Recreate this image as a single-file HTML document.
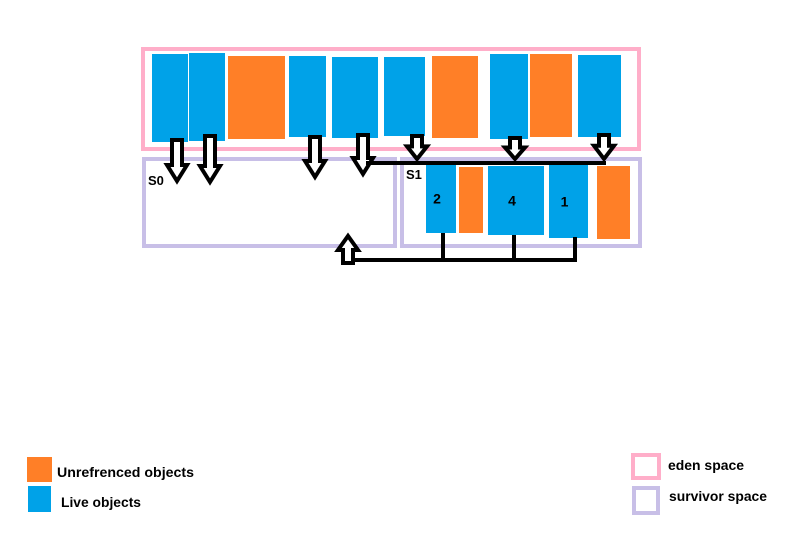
<!DOCTYPE html>
<html><head><meta charset="utf-8"><style>
html,body{margin:0;padding:0;background:#fff;width:806px;height:537px;overflow:hidden}
svg{display:block}
text{font-family:"Liberation Sans",sans-serif;font-weight:bold;fill:#000}
</style></head><body>
<svg id="d" width="806" height="537" viewBox="0 0 806 537">
<rect x="143" y="49" width="496" height="100" fill="none" stroke="#ffaec9" stroke-width="4"/>
<rect x="144" y="159" width="251" height="87" fill="none" stroke="#c8bfe7" stroke-width="4"/>
<rect x="402" y="159" width="238" height="87" fill="none" stroke="#c8bfe7" stroke-width="4"/>
<text x="148" y="185" font-size="13">S0</text>
<text x="406" y="179" font-size="13">S1</text>
<g id="objs"></g>
<g id="arrows" fill="#fff" stroke="#000" stroke-width="4" stroke-linejoin="miter"></g>
<line x1="366" y1="163" x2="606" y2="163" stroke="#000" stroke-width="4"/>
<line x1="348" y1="260" x2="577" y2="260" stroke="#000" stroke-width="4"/>
<line x1="443" y1="233" x2="443" y2="260" stroke="#000" stroke-width="4"/>
<line x1="514" y1="235" x2="514" y2="260" stroke="#000" stroke-width="4"/>
<line x1="575" y1="237" x2="575" y2="260" stroke="#000" stroke-width="4"/>
<path d="M343 263 L343 250 L338 250 L348 236 L358 250 L353 250 L353 263 Z" fill="#fff" stroke="#000" stroke-width="4"/>
<rect x="27" y="457" width="25" height="25" fill="#ff7f27"/>
<text x="57" y="477" font-size="13.5" textLength="137" lengthAdjust="spacingAndGlyphs">Unrefrenced objects</text>
<rect x="28" y="486" width="23" height="26" fill="#00a2e8"/>
<text x="61" y="507" font-size="13.5" textLength="80" lengthAdjust="spacingAndGlyphs">Live objects</text>
<rect x="633" y="455" width="26" height="23" fill="none" stroke="#ffaec9" stroke-width="4"/>
<text x="668" y="470" font-size="13.5" textLength="76" lengthAdjust="spacingAndGlyphs">eden space</text>
<rect x="634" y="488" width="24" height="25" fill="none" stroke="#c8bfe7" stroke-width="4"/>
<text x="669" y="501" font-size="13.5" textLength="98" lengthAdjust="spacingAndGlyphs">survivor space</text>
</svg>
<script>
const objX0=[152,189,228,289,332,384,432,490,530,578,426,459,488,549,597];
const objX1=[188,225,285,326,378,425,478,528,572,621,456,483,544,588,630];
const objY0=[54,53,56,56,57,57,56,54,54,55,164,167,166,165,166];
const objY1=[142,141,139,137,138,136,138,139,137,137,233,233,235,238,239];
const objLive=[1,1,0,1,1,1,0,1,0,1,1,0,1,1,0];
const objLabel=["","","","","","","","","","","2","","4","1",""];
const arrowX=[177,210,315,363,417,515,604];
const arrowTop=[140,136,137,135,136,138,135];
const arrowTip=[181,182,177,174,159,159,159];
const NS="http://www.w3.org/2000/svg";
const og=document.getElementById('objs');
for(let i=0;i<objX0.length;i++){
  const r=document.createElementNS(NS,'rect');
  r.setAttribute('x',objX0[i]);r.setAttribute('y',objY0[i]);
  r.setAttribute('width',objX1[i]-objX0[i]);r.setAttribute('height',objY1[i]-objY0[i]);
  r.setAttribute('fill',objLive[i]?'#00a2e8':'#ff7f27');
  
  
  og.appendChild(r);
  if(objLabel[i]){
    const t=document.createElementNS(NS,'text');
    t.setAttribute('x',(objX0[i]+objX1[i])/2-4);
    t.setAttribute('y',(objY0[i]+objY1[i])/2+5);
    t.setAttribute('text-anchor','middle');t.setAttribute('font-size','14');
    t.textContent=objLabel[i];
    
    
    og.appendChild(t);
  }
}
const ag=document.getElementById('arrows');
for(let i=0;i<arrowX.length;i++){
  const x=arrowX[i],t=arrowTop[i],p=arrowTip[i];
  const len=p-t, hh=Math.min(16,len*0.55), sw=5, hw=10;
  const y=p-hh;
  const d=`M${x-sw} ${t} L${x+sw} ${t} L${x+sw} ${y} L${x+hw} ${y} L${x} ${p} L${x-hw} ${y} L${x-sw} ${y} Z`;
  const a=document.createElementNS(NS,'path');
  a.setAttribute('d',d);
  
  
  ag.appendChild(a);
}
</script>
</body></html>
